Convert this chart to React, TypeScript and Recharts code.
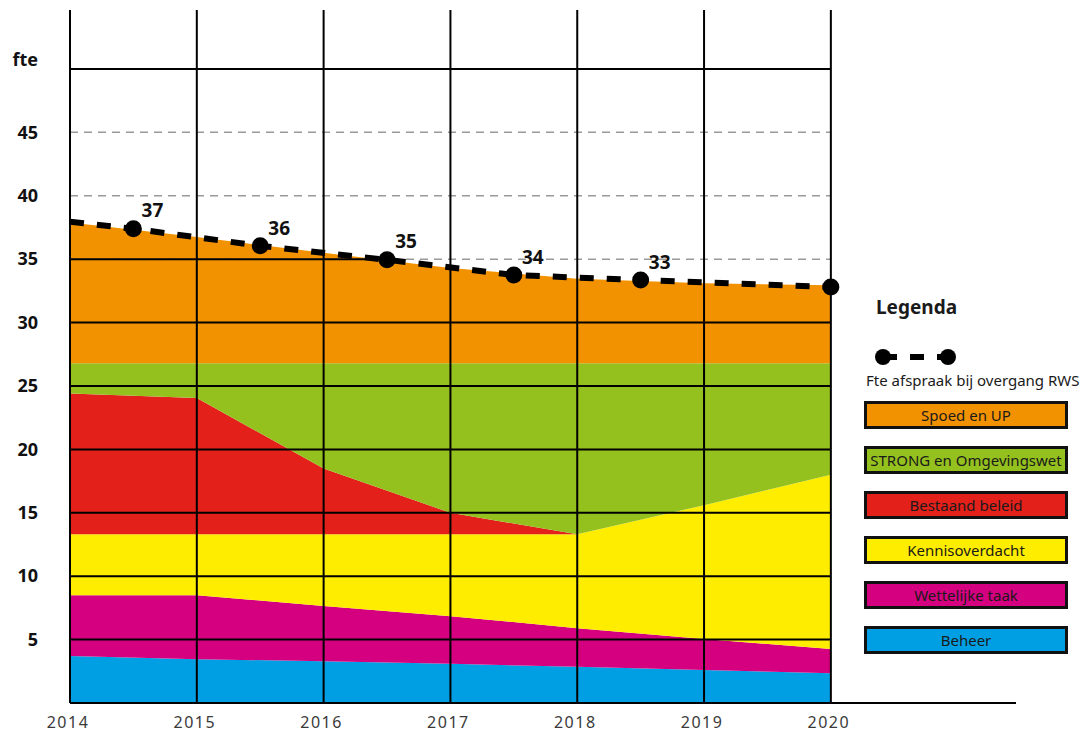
import { ComposedChart, Area, Line, XAxis, YAxis, ReferenceLine } from 'recharts';

const years = [2014, 2015, 2016, 2017, 2018, 2019, 2020];

// values per series (fte), stacked bottom to top
const beheer = [3.7, 3.45, 3.3, 3.1, 2.85, 2.6, 2.35];
const wettelijk = [4.8, 5.05, 4.35, 3.75, 3.05, 2.45, 1.9];
const kennis = [4.8, 4.8, 5.65, 6.45, 7.4, 10.55, 13.75];
const bestaand = [11.1, 10.75, 5.2, 1.7, 0, 0, 0];
const strong = [2.4, 2.75, 8.3, 11.8, 13.5, 11.2, 8.8];
const spoed = [11.1, 9.95, 8.7, 7.5, 6.65, 6.3, 6.15];

// fte afspraak bij overgang RWS
const fteX = [2014, 2014.5, 2015.5, 2016.5, 2017.5, 2018.5, 2020];
const fteY = [37.95, 37.4, 36.05, 34.95, 33.75, 33.35, 32.8];
const fteLabels = ['', '37', '36', '35', '34', '33', ''];

const yTicks = [5, 10, 15, 20, 25, 30, 35, 40, 45, 50];
const blackLines = [5, 10, 15, 20, 25, 30, 50];
const grayLines = [35, 40, 45];

const SERIES = [
  { key: 'spoed', name: 'Spoed en UP', color: '#F39200', values: spoed },
  { key: 'strong', name: 'STRONG en Omgevingswet', color: '#95C11F', values: strong },
  { key: 'bestaand', name: 'Bestaand beleid', color: '#E3201A', values: bestaand },
  { key: 'kennis', name: 'Kennisoverdacht', color: '#FFED00', values: kennis },
  { key: 'wettelijk', name: 'Wettelijke taak', color: '#D4007F', values: wettelijk },
  { key: 'beheer', name: 'Beheer', color: '#009FE3', values: beheer },
];

const data = years.map((year, i) => {
  const row: any = { year };
  SERIES.forEach((s) => { row[s.key] = s.values[i]; });
  return row;
});

const lineData = fteX.map((x, i) => ({ year: x, fte: fteY[i] }));

const FONT = "'Noto Sans', 'Open Sans', sans-serif";

function YTick({ x, y, payload }: any) {
  const isTop = payload.value === 50;
  return (
    <text x={x} y={isTop ? y - 9 : y} dy="0.35em" textAnchor="end" fontSize={18} fontWeight={700} fill="#111" fontFamily={FONT}>
      {isTop ? 'fte' : payload.value}
    </text>
  );
}

function XTick({ x, y, payload }: any) {
  return (
    <text x={x - 2} y={y} dy="0.71em" textAnchor="middle" fontSize={16} fontWeight={400} fill="#3a3a3a" fontFamily={FONT} letterSpacing={1.5}>
      {payload.value}
    </text>
  );
}

function FteDot(props: any) {
  const { cx, cy, index } = props;
  if (index === 0) return <g key={`d-${index}`} />;
  return <circle key={`d-${index}`} cx={cx} cy={cy} r={8.5} fill="#000" />;
}

function FteLabel(props: any) {
  const { x, y, index } = props;
  const t = fteLabels[index];
  if (!t) return null;
  return (
    <text x={x + 19} y={y - 18} dy="0.35em" textAnchor="middle" fontSize={19} fontWeight={700} fill="#111" fontFamily={FONT}>{t}</text>
  );
}

function LegendBox() {
  return (
    <div style={{ position: 'absolute', left: 862, top: 290, width: 221, fontFamily: FONT, color: '#1a1a1a' }}>
      <div style={{ position: 'absolute', left: 14, top: 4, fontSize: 19, fontWeight: 700 }}>Legenda</div>
      <svg style={{ position: 'absolute', left: 0, top: 55 }} width={100} height={24}>
        <line x1={21} y1={12} x2={86} y2={12} stroke="#000" strokeWidth={6} strokeDasharray="14 13" />
        <circle cx={21} cy={12} r={8} fill="#000" />
        <circle cx={86} cy={12} r={8} fill="#000" />
      </svg>
      <div style={{ position: 'absolute', left: 4, top: 80, fontSize: 15, whiteSpace: 'nowrap' }}>Fte afspraak bij overgang RWS</div>
      {SERIES.map((s, i) => (
        <div key={s.key} style={{ position: 'absolute', left: 2, top: 111 + i * 45, width: 198, height: 22, background: s.color, border: '3px solid #111', textAlign: 'center', fontSize: 15, lineHeight: '22px', whiteSpace: 'nowrap' }}>
          {s.name}
        </div>
      ))}
    </div>
  );
}

export default function App() {
  return (
    <div style={{ position: 'absolute', left: 0, top: 0, width: 1083, height: 735, background: '#fff' }}>
      <ComposedChart width={1083} height={735} data={data} margin={{ top: 10, right: 67, bottom: 2, left: 0 }}>
        <XAxis dataKey="year" type="number" domain={[2014, 2021.46]} ticks={years} tick={<XTick />} tickLine={false} tickSize={0} tickMargin={14} axisLine={{ stroke: '#000', strokeWidth: 2 }} height={30} allowDataOverflow />
        <YAxis type="number" domain={[0, 54.65]} ticks={yTicks} tick={<YTick />} tickLine={false} tickSize={0} tickMargin={32} axisLine={false} width={70} allowDataOverflow />
        {grayLines.map((v) => (
          <ReferenceLine key={`g-${v}`} segment={[{ x: 2014, y: v }, { x: 2020, y: v }]} stroke="#9a9a9a" strokeWidth={1.5} strokeDasharray="8 6" />
        ))}
        {[...SERIES].reverse().map((s) => (
          <Area key={s.key} dataKey={s.key} name={s.name} stackId="fte" type="linear" fill={s.color} fillOpacity={1} stroke="none" isAnimationActive={false} />
        ))}
        {blackLines.map((v) => (
          <ReferenceLine key={`b-${v}`} segment={[{ x: 2014, y: v }, { x: 2020, y: v }]} stroke="#000" strokeWidth={2} />
        ))}
        <ReferenceLine segment={[{ x: 2014, y: 35 }, { x: 2016.46, y: 35 }]} stroke="#000" strokeWidth={2} />
        {years.map((yr) => (
          <ReferenceLine key={`v-${yr}`} x={yr} stroke="#000" strokeWidth={2} />
        ))}
        <Line data={lineData} dataKey="fte" type="linear" stroke="#000" strokeWidth={6} strokeDasharray="14 13" dot={<FteDot />} activeDot={false} label={<FteLabel />} isAnimationActive={false} />
      </ComposedChart>
      <LegendBox />
    </div>
  );
}
